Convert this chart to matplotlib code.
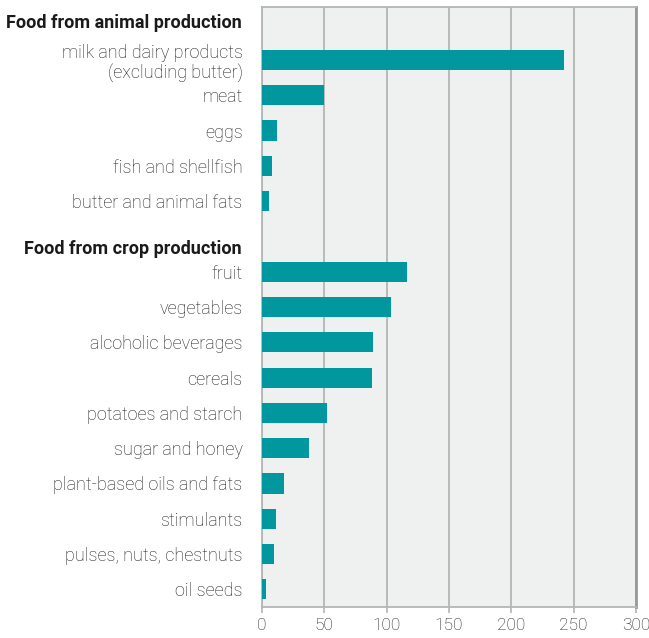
import matplotlib.pyplot as plt

plt.rcParams['font.family'] = ['Roboto', 'DejaVu Sans']

# values (per capita, arbitrary units)
animal_items = ['milk and dairy products\n(excluding butter)', 'meat', 'eggs',
                'fish and shellfish', 'butter and animal fats']
animal_vals = [242, 50, 12, 8, 5.5]

crop_items = ['fruit', 'vegetables', 'alcoholic beverages', 'cereals',
              'potatoes and starch', 'sugar and honey', 'plant-based oils and fats',
              'stimulants', 'pulses, nuts, chestnuts', 'oil seeds']
crop_vals = [116, 103.5, 89, 88, 52, 37.5, 17.5, 11, 9.5, 3.5]

group_titles = ['Food from animal production', 'Food from crop production']
xticks = [0, 50, 100, 150, 200, 250, 300]

teal = '#00979f'
grid_col = '#b4b6b5'
text_col = '#1c1c1c'

# slot positions, one empty slot between the groups
ya = list(range(len(animal_items)))
yc = [len(animal_items) + 1 + i for i in range(len(crop_items))]

fig = plt.figure(figsize=(6.49, 6.38), dpi=100)
ax = fig.add_axes([262 / 649, 31 / 638, 374 / 649, 600 / 638])
ax.set_facecolor('#eff1f0')

ax.barh(ya, animal_vals, height=0.57, color=teal, zorder=3)
ax.barh(yc, crop_vals, height=0.57, color=teal, zorder=3)

ax.set_xlim(0, 300)
ax.set_ylim(len(ya) + len(yc) + 0.5, -1.5)
ax.set_xticks(xticks)
ax.set_xticklabels([str(t) for t in xticks], fontsize=12.5, fontweight='light', color=text_col)
ax.tick_params(axis='x', length=4, width=1.2, color=grid_col, pad=4)
ax.grid(axis='x', color=grid_col, linewidth=1.3, zorder=1)

ax.set_yticks(ya + yc)
ax.set_yticklabels(animal_items + crop_items, fontsize=13, fontweight='light',
                   color=text_col, ha='right', multialignment='right',
                   linespacing=1.1)
ax.tick_params(axis='y', length=0, pad=14)

for side in ['left', 'bottom', 'top']:
    ax.spines[side].set_color(grid_col)
    ax.spines[side].set_linewidth(1.3)
ax.spines['right'].set_color('#999999')
ax.spines['right'].set_linewidth(2)

# group headings, right-aligned with the labels
ax.text(-16, -1.05, group_titles[0], ha='right', va='center', fontsize=13,
        fontweight='bold', color='#1a1a1a', clip_on=False)
ax.text(-16, 5.35, group_titles[1], ha='right', va='center', fontsize=13,
        fontweight='bold', color='#1a1a1a', clip_on=False)

fig.savefig('out.png', dpi=100)
